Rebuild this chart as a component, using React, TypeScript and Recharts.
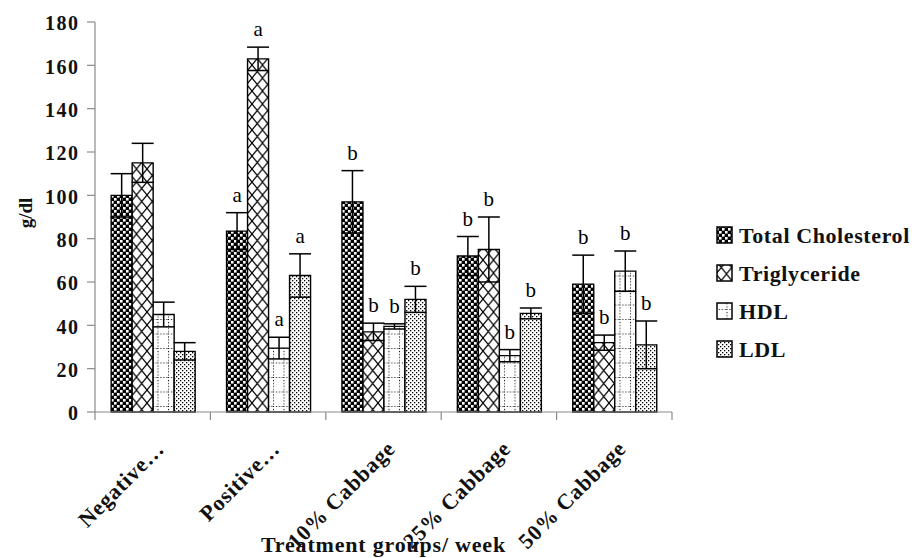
import React from 'react';
import { BarChart, Bar, XAxis, YAxis, ErrorBar, LabelList, Legend, Label } from 'recharts';

const categories = ['Negative…', 'Positive…', '10% Cabbage', '25% Cabbage', '50% Cabbage'];
const seriesNames = ['Total Cholesterol', 'Triglyceride', 'HDL', 'LDL'];
const totalCholesterol = [100, 83.5, 97, 72, 59];
const totalCholesterolErr = [10, 8.5, 14.4, 9, 13.4];
const triglyceride = [115, 163, 37, 75, 32];
const triglycerideErr = [9, 5.4, 4, 15, 3.5];
const hdl = [45, 29.5, 39.5, 26, 65];
const hdlErr = [5.7, 5, 1.2, 2.8, 9.3];
const ldl = [28, 63, 52, 45.5, 31];
const ldlErr = [4, 10, 6, 2.5, 11];
const totalCholesterolSig = ['', 'a', 'b', 'b', 'b'];
const triglycerideSig = ['', 'a', 'b', 'b', 'b'];
const hdlSig = ['', 'a', 'b', 'b', 'b'];
const ldlSig = ['', 'a', 'b', 'b', 'b'];
const yTicks = [0, 20, 40, 60, 80, 100, 120, 140, 160, 180];
const xTitle = 'Treatment groups/ week';
const yTitle = 'g/dl';

const data = categories.map((c, i) => ({
  category: c,
  tc: totalCholesterol[i], tcErr: totalCholesterolErr[i], tcSig: totalCholesterolSig[i],
  tg: triglyceride[i], tgErr: triglycerideErr[i], tgSig: triglycerideSig[i],
  hdl: hdl[i], hdlErr: hdlErr[i], hdlSig: hdlSig[i],
  ldl: ldl[i], ldlErr: ldlErr[i], ldlSig: ldlSig[i],
}));

const series = [
  { key: 'tc', name: seriesNames[0], pattern: 'pTC' },
  { key: 'tg', name: seriesNames[1], pattern: 'pTG' },
  { key: 'hdl', name: seriesNames[2], pattern: 'pHDL' },
  { key: 'ldl', name: seriesNames[3], pattern: 'pLDL' },
];

const W = 918;
const H = 558;
const MARGIN = { top: 22, right: 246, bottom: 0, left: 0 };
const Y_AXIS_W = 95;
const X_AXIS_H = 146;
const PLOT_W = W - MARGIN.right - Y_AXIS_W;
const AXIS = '#8a8a8a';
const FONT = "'Liberation Serif', 'Times New Roman', Times, serif";

const Patterns = ({ prefix }: { prefix: string }) => (
  <defs>
    <pattern id={`${prefix}pTC`} width={6} height={6} patternUnits="userSpaceOnUse">
      <rect width={6} height={6} fill="#000" />
      <rect x={0} y={0} width={2.6} height={2.6} fill="#fff" />
      <rect x={3} y={3} width={2.6} height={2.6} fill="#fff" />
    </pattern>
    <pattern id={`${prefix}pTG`} width={10.5} height={13} patternUnits="userSpaceOnUse">
      <rect width={10.5} height={13} fill="#fff" />
      <path d="M0,0 L10.5,13 M10.5,0 L0,13" stroke="#000" strokeWidth={1.2} />
    </pattern>
    <pattern id={`${prefix}pHDL`} width={10.5} height={14.5} patternUnits="userSpaceOnUse">
      <rect width={10.5} height={14.5} fill="#fff" />
      <line x1={0.5} y1={0} x2={0.5} y2={14.5} stroke="#000" strokeWidth={1} strokeDasharray="1 2" />
      <line x1={0} y1={0.5} x2={10.5} y2={0.5} stroke="#000" strokeWidth={1} strokeDasharray="1 2" />
    </pattern>
    <pattern id={`${prefix}pLDL`} width={4} height={4} patternUnits="userSpaceOnUse">
      <rect width={4} height={4} fill="#fff" />
      <rect x={0} y={0} width={1.3} height={1.3} fill="#000" />
      <rect x={2} y={2} width={1.3} height={1.3} fill="#000" />
    </pattern>
  </defs>
);

const makeSigLabel = (valueKey: string, errKey: string) => (props: any) => {
  const { value } = props;
  if (!value) return null;
  const vb = props.viewBox || props;
  const x = Number(vb.x ?? props.x);
  const y = Number(vb.y ?? props.y);
  const w = Number(vb.width ?? props.width);
  const h = Number(vb.height ?? props.height);
  const index = props.index;
  if (index == null) return null;
  const row: any = data[index];
  const v = row[valueKey];
  if (!v) return null;
  const pxPer = Math.abs(h) / v;
  const top = Math.min(y, y + h) - row[errKey] * pxPer;
  return (
    <text x={x + w / 2} y={top - 11} textAnchor="middle" fontFamily={FONT} fontSize={21} fill="#000">
      {value}
    </text>
  );
};

const XTick = (props: any) => {
  const { x, y, payload } = props;
  const idx = props.index ?? categories.indexOf(payload.value);
  const half = PLOT_W / categories.length / 2;
  const lx = x + 13;
  const ly = y + 38;
  return (
    <g>
      <line x1={x - half} y1={y} x2={x - half} y2={y + 8} stroke={AXIS} strokeWidth={1.2} />
      {idx === categories.length - 1 && (
        <line x1={x + half} y1={y} x2={x + half} y2={y + 8} stroke={AXIS} strokeWidth={1.2} />
      )}
      <text
        x={lx}
        y={ly}
        transform={`rotate(-45 ${lx} ${ly})`}
        textAnchor="end"
        fontFamily={FONT}
        fontSize={22}
        fontWeight="bold"
        letterSpacing={0.8}
        fill="#111"
      >
        {payload.value}
      </text>
    </g>
  );
};

const YTick = (props: any) => {
  const { x, y, payload } = props;
  return (
    <text x={x + 1.5} y={y} dy="0.42em" textAnchor="end" fontFamily={FONT} fontSize={20} fontWeight="bold" letterSpacing={1.5} fill="#111">
      {payload.value}
    </text>
  );
};

const LegendContent = () => (
  <svg width={205} height={160} style={{ display: 'block', overflow: 'visible' }}>
    <Patterns prefix="lg-" />
    {series.map((s, i) => (
      <g key={s.key}>
        <rect x={1} y={5 + i * 38} width={15} height={16} fill={`url(#lg-${s.pattern})`} stroke="#000" strokeWidth={1.5} />
        <text x={23} y={21 + i * 38} fontFamily={FONT} fontSize={22} fontWeight="bold" letterSpacing={0.6} fill="#111">
          {s.name}
        </text>
      </g>
    ))}
  </svg>
);

export default function App() {
  return (
    <div style={{ position: 'absolute', left: 0, top: 0, width: W, height: H, background: '#fff' }}>
      <BarChart width={W} height={H} data={data} margin={MARGIN} barCategoryGap="14%" barGap={0}>
        <Patterns prefix="" />
        <XAxis
          dataKey="category"
          height={X_AXIS_H}
          interval={0}
          tickLine={false}
          tickSize={0}
          tickMargin={0}
          axisLine={{ stroke: AXIS, strokeWidth: 1.2 }}
          tick={<XTick />}
        >
          <Label
            content={(p: any) => {
              const vb = p.viewBox;
              return (
                <text x={vb.x + vb.width / 2} y={vb.y + vb.height - 6} textAnchor="middle" fontFamily={FONT} fontSize={22} fontWeight="bold" letterSpacing={0.8} fill="#111">
                  {xTitle}
                </text>
              );
            }}
          />
        </XAxis>
        <YAxis
          width={Y_AXIS_W}
          domain={[0, 180]}
          ticks={yTicks}
          interval={0}
          tickSize={8}
          tickMargin={9}
          axisLine={{ stroke: AXIS, strokeWidth: 1.2 }}
          tickLine={{ stroke: AXIS, strokeWidth: 1.2 }}
          tick={<YTick />}
        >
          <Label
            content={(p: any) => {
              const vb = p.viewBox;
              const cx = vb.x + 25;
              const cy = vb.y + vb.height / 2 - 4;
              return (
                <text x={cx} y={cy} transform={`rotate(-90 ${cx} ${cy})`} dy="0.35em" textAnchor="middle" fontFamily={FONT} fontSize={19} fontWeight="bold" fill="#111">
                  {yTitle}
                </text>
              );
            }}
          />
        </YAxis>
        <Legend
          layout="vertical"
          align="center"
          verticalAlign="middle"
          wrapperStyle={{ left: 716, top: 222, width: 205 }}
          content={<LegendContent />}
        />
        {series.map((s) => (
          <Bar
            key={s.key}
            dataKey={s.key}
            name={s.name}
            fill={`url(#${s.pattern})`}
            stroke="#000"
            strokeWidth={1.4}
            isAnimationActive={false}
          >
            <ErrorBar dataKey={`${s.key}Err`} width={11} stroke="#000" strokeWidth={1.5} direction="y" />
            <LabelList dataKey={`${s.key}Sig`} content={makeSigLabel(s.key, `${s.key}Err`)} />
          </Bar>
        ))}
      </BarChart>
    </div>
  );
}
